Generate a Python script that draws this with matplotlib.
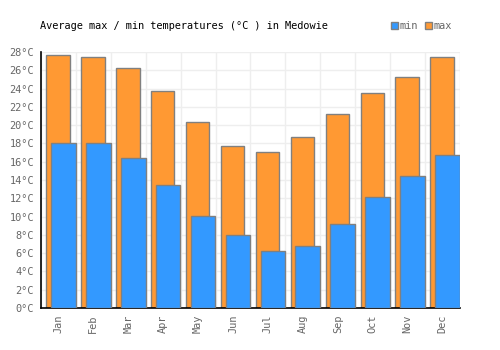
import matplotlib
matplotlib.use("Agg")
import matplotlib.pyplot as plt
import numpy as np
from matplotlib.patches import Rectangle

months = ["Jan", "Feb", "Mar", "Apr", "May", "Jun", "Jul", "Aug", "Sep", "Oct", "Nov", "Dec"]
max_temps = [27.7, 27.4, 26.3, 23.7, 20.3, 17.7, 17.1, 18.7, 21.2, 23.5, 25.3, 27.4]
min_temps = [18.1, 18.0, 16.4, 13.5, 10.1, 8.0, 6.2, 6.8, 9.2, 12.1, 14.4, 16.7]
yticks = list(range(0, 29, 2))

font = "DejaVu Sans Mono"
fs = 7.4
orange = "#FF9933"
blue = "#3399FF"
edge = "#808080"

fig = plt.figure(figsize=(5, 3.5), dpi=100)
ax = fig.add_axes([41/500, 1-308/350, (460-41)/500, (308-52)/350])

x = np.arange(len(months))
ax.bar(x + 0.152, max_temps, width=0.67, align="edge", color=orange,
       edgecolor=edge, linewidth=1, zorder=2)
ax.bar(x + 0.287, min_temps, width=0.708, align="edge", color=blue,
       edgecolor=edge, linewidth=1, zorder=3)

ax.set_xlim(0, 12)
ax.set_ylim(0, 28)
ax.set_yticks(yticks)
ax.set_yticklabels([f"{t}°C" for t in yticks], fontfamily=font, fontsize=fs, color="#666666")
ax.set_xticks(x + 0.5)
ax.set_xticklabels(months, rotation=90, fontfamily=font, fontsize=fs, color="#666666")
ax.set_xticks(np.arange(13), minor=True)
ax.tick_params(axis="both", length=0, pad=5)
ax.tick_params(which="minor", length=0)
ax.grid(True, axis="y", color="#eeeeee", linewidth=1, zorder=0)
ax.grid(True, axis="x", which="minor", color="#eeeeee", linewidth=1, zorder=0)
ax.set_axisbelow(True)
for s in ["top", "right"]:
    ax.spines[s].set_visible(False)
ax.spines["left"].set_color("black")
ax.spines["bottom"].set_color("black")
ax.spines["left"].set_linewidth(1.2)
ax.spines["bottom"].set_linewidth(1.2)

fig.text(40/500, 1-26/350, "Average max / min temperatures (°C ) in Medowie",
         fontfamily=font, fontsize=fs, color="black", va="center", ha="left")

# legend
for xs, col, lab in [(391, blue, "min"), (425, orange, "max")]:
    fig.patches.append(Rectangle((xs/500, 1-29/350), 7/500, 7/350, transform=fig.transFigure,
                                 facecolor=col, edgecolor=edge, linewidth=1))
    fig.text((xs+9)/500, 1-26/350, lab, fontfamily=font, fontsize=fs, color="#666666",
             va="center", ha="left")

fig.savefig("out.png", dpi=100)
